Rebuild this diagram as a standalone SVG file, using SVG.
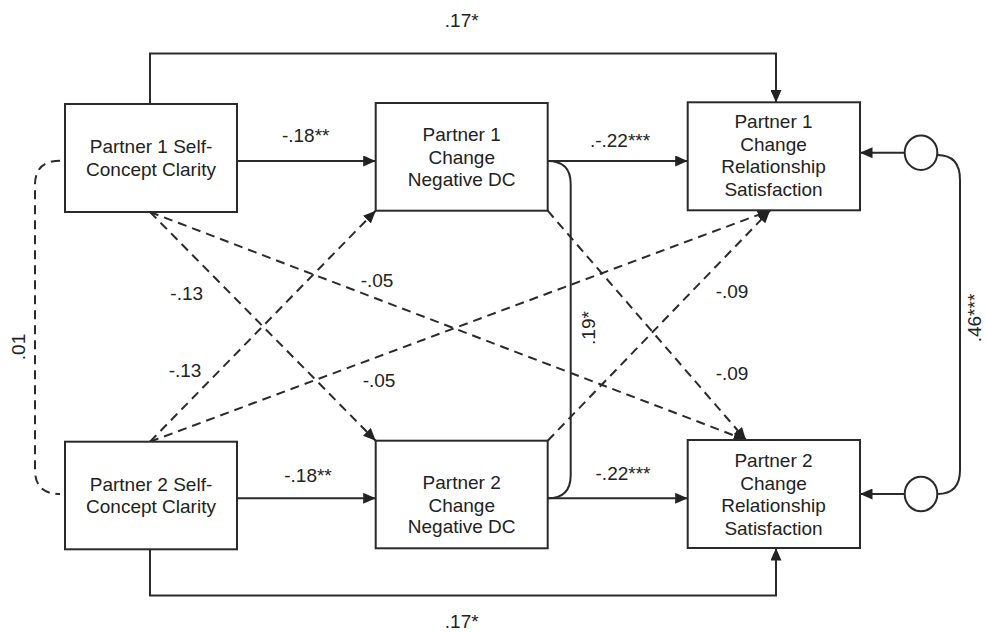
<svg xmlns="http://www.w3.org/2000/svg" width="986" height="632" viewBox="0 0 986 632">
<defs>
<marker id="ah" markerUnits="userSpaceOnUse" markerWidth="13" markerHeight="11" refX="12.5" refY="5.5" orient="auto">
<path d="M0,0 L12.5,5.5 L0,11 z" fill="#222"/>
</marker>
<style>
.box{fill:#fff;stroke:#2a2a2a;stroke-width:2}
.ln{fill:none;stroke:#2a2a2a;stroke-width:2}
.ds{fill:none;stroke:#2a2a2a;stroke-width:2;stroke-dasharray:9,6}
.arr{marker-end:url(#ah)}
text{font-family:"Liberation Sans",Arial,Helvetica,sans-serif;font-size:19px;fill:#222;text-anchor:middle}
</style>
</defs>
<rect width="986" height="632" fill="#fff"/>
<g id="connectors">
<path class="ln arr" d="M150,104 V53.5 H776 V102.5"/>
<path class="ln arr" d="M150,549.5 V595.5 H776 V548"/>
<path class="ln arr" d="M237,161 H375.7"/>
<path class="ln arr" d="M237,498.3 H375.7"/>
<path class="ln arr" d="M547.7,161 H687.7"/>
<path class="ln arr" d="M547.7,498.3 H687.7"/>
<path class="ln arr" d="M904.5,152.7 H860"/>
<path class="ln arr" d="M904.5,494 H860"/>
<path class="ln" d="M547.7,161 Q570.7,161 570.7,184 V475 Q570.7,498.3 547.7,498.3"/>
<path class="ln" d="M937.5,155 Q960,155 960,180 V470 Q960,494 937.5,494"/>
<path class="ds" d="M60,160.7 Q35,160.7 35,185 V470 Q35,494 60,494"/>
<path class="ds arr" d="M150,212 L375.7,440.7"/>
<path class="ds arr" d="M150,212 L746,440"/>
<path class="ds arr" d="M150,441.7 L375.7,210.7"/>
<path class="ds arr" d="M150,441.7 L770,210.5"/>
<path class="ds arr" d="M547.7,210.7 L746,440"/>
<path class="ds arr" d="M547.7,440.7 L770,210.5"/>
</g>
<g id="p1scc"><rect class="box" x="65" y="104" width="172" height="108"/><text x="151" y="153.3">Partner 1 Self-</text><text x="151" y="175.5">Concept Clarity</text></g>
<g id="p2scc"><rect class="box" x="65" y="441.7" width="172" height="107.6"/><text x="151" y="490.7">Partner 2 Self-</text><text x="151" y="513">Concept Clarity</text></g>
<g id="p1dc"><rect class="box" x="375.7" y="103" width="172" height="107.7"/><text x="461.7" y="140.7">Partner 1</text><text x="461.7" y="163.5">Change</text><text x="461.7" y="185.7">Negative DC</text></g>
<g id="p2dc"><rect class="box" x="375.7" y="440.7" width="172" height="107.6"/><text x="461.7" y="489">Partner 2</text><text x="461.7" y="511.5">Change</text><text x="461.7" y="533.3">Negative DC</text></g>
<g id="p1rs"><rect class="box" x="687.7" y="102.3" width="172.3" height="108"/><text x="773.5" y="127.7">Partner 1</text><text x="773.5" y="150.5">Change</text><text x="773.5" y="172.7">Relationship</text><text x="773.5" y="195.5">Satisfaction</text></g>
<g id="p2rs"><rect class="box" x="687.7" y="440" width="172.3" height="108"/><text x="773.5" y="466.7">Partner 2</text><text x="773.5" y="489.5">Change</text><text x="773.5" y="511.7">Relationship</text><text x="773.5" y="534.5">Satisfaction</text></g>
<g id="e1"><ellipse class="box" cx="921" cy="152.7" rx="16.3" ry="17.3"/></g>
<g id="e2"><ellipse class="box" cx="921" cy="494" rx="16.3" ry="17.3"/></g>
<g id="labels">
<text x="461.7" y="26.7">.17*</text>
<text x="461.7" y="628">.17*</text>
<text x="305.7" y="141.7">-.18**</text>
<text x="308" y="481.7">-.18**</text>
<text x="620" y="146.7">.-.22***</text>
<text x="623" y="480">-.22***</text>
<text x="186.7" y="300">-.13</text>
<text x="185" y="377.3">-.13</text>
<text x="377" y="286.7">-.05</text>
<text x="379" y="386.7">-.05</text>
<text x="732" y="298">-.09</text>
<text x="732" y="380">-.09</text>
<text transform="translate(25,347) rotate(-90)">.01</text>
<text transform="translate(595,328) rotate(-90)">.19*</text>
<text transform="translate(981,318) rotate(-90)">.46***</text>
</g>
</svg>
